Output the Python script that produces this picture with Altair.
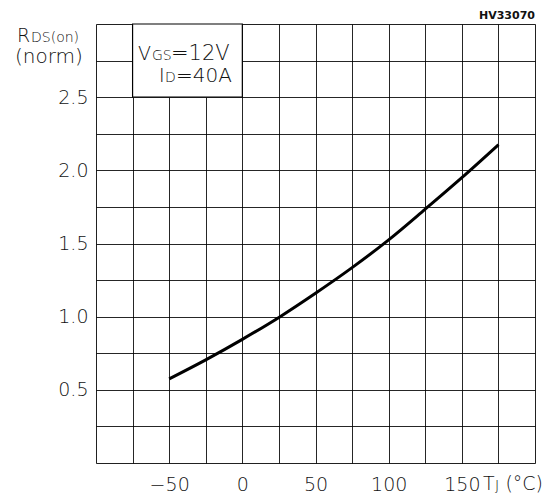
import altair as alt
import pandas as pd

# Curve values
tj = [-50, -25, 0, 25, 50, 75, 100, 125, 150, 175]
rds = [0.575, 0.705, 0.845, 0.995, 1.16, 1.335, 1.525, 1.735, 1.95, 2.175]

x_grid = list(range(-100, 201, 25))
y_grid = [i * 0.25 for i in range(13)]
x_labels = [-50, 0, 50, 100, 150]
y_labels = [0.5, 1.0, 1.5, 2.0, 2.5]

box_x = [-75]
box_x2 = [0]
box_y = [2.5]
box_y2 = [3.0]

FONT = "DejaVu Sans"
W, H = 439, 439

curve_df = pd.DataFrame({"tj": tj, "rds": rds})
box_df = pd.DataFrame({"x": box_x, "x2": box_x2, "y": box_y, "y2": box_y2})

xs = alt.Scale(domain=[-100, 200], nice=False, zero=False)
ys = alt.Scale(domain=[0, 3], nice=False, zero=False)

xlab_expr = "indexof([" + ",".join(str(v) for v in x_labels) + "], datum.value) >= 0 ? datum.label : ''"
ylab_expr = "indexof([" + ",".join(str(v) for v in y_labels) + "], datum.value) >= 0 ? format(datum.value, '.1f') : ''"

x_axis = alt.Axis(
    values=x_grid, title=None, labelExpr=xlab_expr, grid=True, ticks=False,
    domain=False, labelFont=FONT, labelFontSize=19, labelColor="#111",
    labelFontWeight=300,
    labelPadding=12, gridColor="black", gridWidth=1, gridOpacity=0.85,
    labelOverlap=False, labelFlush=False)
y_axis = alt.Axis(
    values=y_grid, title=None, labelExpr=ylab_expr, grid=True, ticks=False,
    domain=False, labelFont=FONT, labelFontSize=19, labelColor="#111",
    labelFontWeight=300,
    labelPadding=8, gridColor="black", gridWidth=1, gridOpacity=0.85,
    labelOverlap=False, labelFlush=False)

curve = alt.Chart(curve_df).mark_line(color="black", strokeWidth=3, interpolate="monotone").encode(
    x=alt.X("tj:Q", scale=xs, axis=x_axis),
    y=alt.Y("rds:Q", scale=ys, axis=y_axis),
)

box = alt.Chart(box_df).mark_rect(fill="white", stroke="black", strokeWidth=1.2).encode(
    x=alt.X("x:Q", scale=xs, axis=x_axis), x2="x2:Q",
    y=alt.Y("y:Q", scale=ys, axis=y_axis), y2="y2:Q",
)

one = pd.DataFrame({"a": [0]})


def txt(s, x, y, size, align="left", weight=300):
    return alt.Chart(one).mark_text(
        text=s, font=FONT, fontSize=size, align=align, baseline="alphabetic",
        color="#111", fontWeight=weight,
    ).encode(x=alt.value(x), y=alt.value(y))


labels = [
    txt("R", -79, 18, 19),
    txt("DS(on)", -65, 18, 14),
    txt("(norm)", -81, 39, 20),
    txt("HV33070", 439, -5, 11, align="right", weight="bold"),
    txt("V", 42, 36, 19),
    txt("GS", 56, 36, 14),
    txt("=12V", 75, 36, 21),
    txt("I", 63, 58, 19),
    txt("D", 69, 58, 14),
    txt("=40A", 80, 58, 20),
    txt("T", 387, 466, 19),
    txt("J", 399, 466, 14),
    txt("(°C)", 447, 466, 19, align="right"),
]

chart = alt.layer(box, curve, *labels).properties(
    width=W, height=H,
    autosize=alt.AutoSizeParams(type="none"),
    padding={"left": 96, "top": 24, "right": 19, "bottom": 37},
).configure_view(stroke="black", strokeWidth=2.5).configure(background="white")

chart.save("out.html", embed_options={"renderer": "svg", "actions": False})
